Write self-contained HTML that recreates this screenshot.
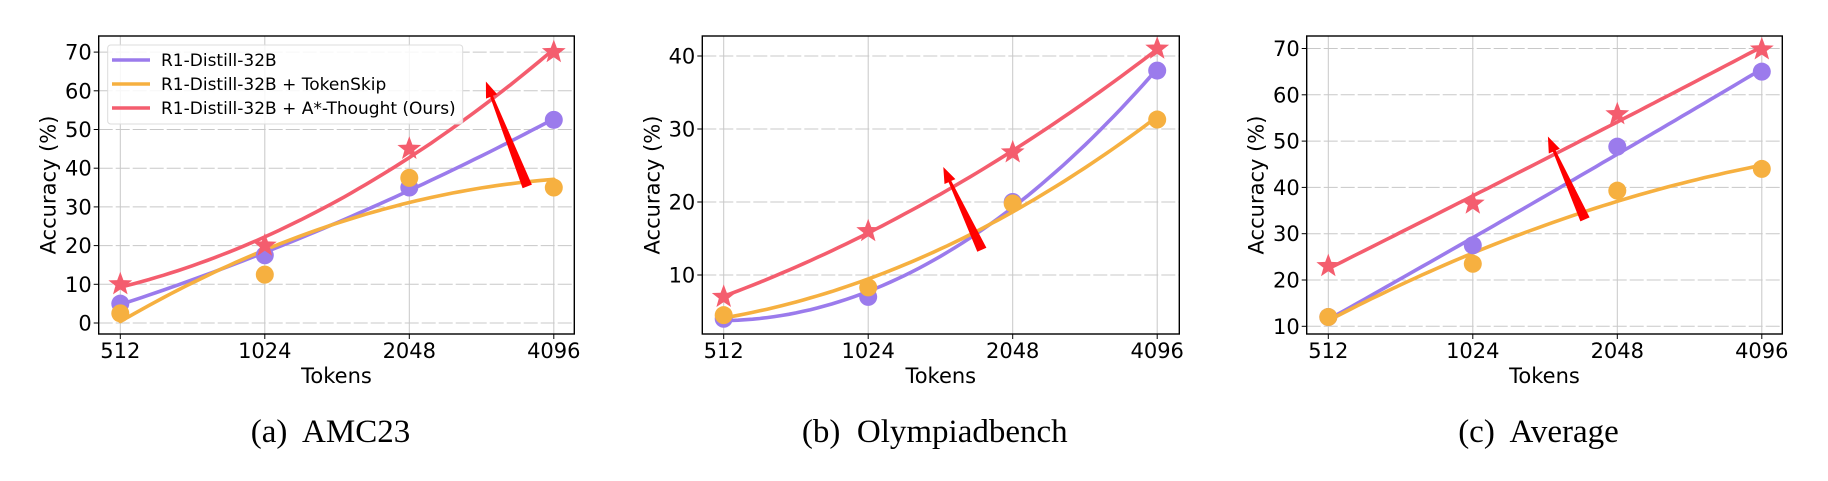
<!DOCTYPE html>
<html><head><meta charset="utf-8"><style>
body{margin:0;background:#fff;}
svg text{font-family:"DejaVu Sans","Liberation Sans",sans-serif;}
</style></head><body>
<svg id="fig" width="1828" height="476" viewBox="0 0 1828 476" xmlns="http://www.w3.org/2000/svg"></svg>
<script>
const categories = ["512","1024","2048","4096"];
const amcBase = [5, 17.5, 35, 52.5];
const amcSkip = [2.5, 12.5, 37.5, 35];
const amcOurs = [10, 20, 45, 70];
const olyBase = [4, 7, 20, 38];
const olySkip = [4.5, 8.3, 19.8, 31.3];
const olyOurs = [7, 16, 26.8, 41];
const avgBase = [12, 27.5, 48.8, 65];
const avgSkip = [12, 23.5, 39.3, 44];
const avgOurs = [23, 36.5, 55.8, 69.8];
const amcTicks = [0,10,20,30,40,50,60,70];
const olyTicks = [10,20,30,40];
const avgTicks = [10,20,30,40,50,60,70];
const amcArrow = [[2.81,35.2],[2.53,62.4]];
const olyArrow = [[1.78,13.4],[1.52,24.8]];
const avgArrow = [[1.77,33],[1.52,51]];
const seriesNames = ["R1-Distill-32B","R1-Distill-32B + TokenSkip","R1-Distill-32B + A*-Thought (Ours)"];
const captions = ["(a)  AMC23","(b)  Olympiadbench","(c)  Average"];

const NS="http://www.w3.org/2000/svg";
const svg=document.getElementById('fig');
const COLORS=["#9b7bec","#f6b040","#f45d6e"];
function mk(tag,attrs,parent){const e=document.createElementNS(NS,tag);for(const k in attrs)e.setAttribute(k,attrs[k]);(parent||svg).appendChild(e);return e;}

const panels=[
 {id:'amc',left:98.7,right:574.3,x0:120.3,refV:0,refPx:323,per10:38.7,ticks:amcTicks,data:[amcBase,amcSkip,amcOurs],arrow:amcArrow,legend:true,cap:captions[0]},
 {id:'olympiad',left:702.3,right:1179.3,x0:723.7,refV:10,refPx:275,per10:73,ticks:olyTicks,data:[olyBase,olySkip,olyOurs],arrow:olyArrow,legend:false,cap:captions[1]},
 {id:'average',left:1306.7,right:1782.3,x0:1328.3,refV:10,refPx:326.3,per10:46.3,ticks:avgTicks,data:[avgBase,avgSkip,avgOurs],arrow:avgArrow,legend:false,cap:captions[2]}
];
const TOP=36,BOT=334,DX=144.5;

function quadFit(ys){
  const n=ys.length;let S=[0,0,0,0,0],T=[0,0,0];
  for(let i=0;i<n;i++){for(let p=0;p<5;p++)S[p]+=Math.pow(i,p);for(let p=0;p<3;p++)T[p]+=ys[i]*Math.pow(i,p);}
  const A=[[S[0],S[1],S[2],T[0]],[S[1],S[2],S[3],T[1]],[S[2],S[3],S[4],T[2]]];
  for(let i=0;i<3;i++){for(let j=i+1;j<3;j++){const f=A[j][i]/A[i][i];for(let k=i;k<4;k++)A[j][k]-=f*A[i][k];}}
  const c=[0,0,0];for(let i=2;i>=0;i--){let s=A[i][3];for(let k=i+1;k<3;k++)s-=A[i][k]*c[k];c[i]=s/A[i][i];}
  return t=>c[0]+c[1]*t+c[2]*t*t;
}
function star(cx,cy,R,r){let p=[];for(let i=0;i<10;i++){const a=-Math.PI/2+i*Math.PI/5;const rr=i%2?r:R;p.push((cx+rr*Math.cos(a)).toFixed(1)+','+(cy+rr*Math.sin(a)).toFixed(1));}return p.join(' ');}

panels.forEach(P=>{
  const g=mk('g',{});
  
  
  const xs=i=>P.x0+i*DX;
  const ys=v=>P.refPx-(v-P.refV)*P.per10/10;
  categories.forEach((c,i)=>{
    const l=mk('line',{x1:xs(i),x2:xs(i),y1:TOP,y2:BOT,stroke:'#c8c8c8','stroke-width':1},g);
    
    
  });
  P.ticks.forEach(t=>{
    const l=mk('line',{x1:P.left,x2:P.right,y1:ys(t),y2:ys(t),stroke:'#c8c8c8','stroke-width':1,'stroke-dasharray':'14,3'},g);
    
    
  });
  P.data.forEach((d,si)=>{
    const f=quadFit(d);let pts=[];
    for(let k=0;k<=60;k++){const t=k/20;pts.push(xs(t).toFixed(1)+','+ys(f(t)).toFixed(1));}
    const pl=mk('polyline',{points:pts.join(' '),fill:'none',stroke:COLORS[si],'stroke-width':3.6,'stroke-linecap':'round'},g);
    
    
  });
  P.data.forEach((d,si)=>{
    d.forEach((v,i)=>{
      let m;
      if(si<2){m=mk('circle',{cx:xs(i),cy:ys(v),r:9,fill:COLORS[si]},g);}
      else{m=mk('polygon',{points:star(xs(i),ys(v),12.5,5.2),fill:COLORS[si]},g);}
      
      
    });
  });
  const [tl,hd]=P.arrow;const tx=xs(tl[0]),ty=ys(tl[1]),hx=xs(hd[0]),hy=ys(hd[1]);
  const L=Math.hypot(hx-tx,hy-ty),ux=(hx-tx)/L,uy=(hy-ty)/L,nx=-uy,ny=ux;
  const bx=hx-ux*16,by=hy-uy*16;
  const ap=[[tx+nx*6,ty+ny*6],[bx+nx*1.5,by+ny*1.5],[bx+nx*6,by+ny*6],[hx,hy],[bx-nx*6,by-ny*6],[bx-nx*1.5,by-ny*1.5],[tx-nx*4,ty-ny*4]];
  const ar=mk('polygon',{points:ap.map(p=>p[0].toFixed(1)+','+p[1].toFixed(1)).join(' '),fill:'#ff0000'},g);
  
  
  const fr=mk('rect',{x:P.left,y:TOP,width:P.right-P.left,height:BOT-TOP,fill:'none',stroke:'#000','stroke-width':1.4},g);
  
  
  categories.forEach((c,i)=>{
    mk('line',{x1:xs(i),x2:xs(i),y1:BOT,y2:BOT+5,stroke:'#000','stroke-width':1},g);
    const t=mk('text',{x:xs(i),y:358,'text-anchor':'middle','font-size':21,fill:'#000'},g);
    t.textContent=c;
    
    
  });
  P.ticks.forEach(v=>{
    mk('line',{x1:P.left-5,x2:P.left,y1:ys(v),y2:ys(v),stroke:'#000','stroke-width':1},g);
    const t=mk('text',{x:P.left-7,y:ys(v)+7.5,'text-anchor':'end','font-size':21,fill:'#000'},g);
    t.textContent=v;
    
    
  });
  const cx=(P.left+P.right)/2;
  const xt=mk('text',{x:cx,y:383,'text-anchor':'middle','font-size':21,fill:'#000'},g);
  xt.textContent='Tokens';
  
  
  const yx=P.left-43,yy=(TOP+BOT)/2;
  const yt=mk('text',{x:yx,y:yy,'text-anchor':'middle','font-size':21,fill:'#000',transform:`rotate(-90 ${yx} ${yy})`},g);
  yt.textContent='Accuracy (%)';
  
  
  const cp=mk('text',{x:cx-6,y:442,'text-anchor':'middle','font-size':33,fill:'#000'},g);
  cp.style.fontFamily='"Liberation Serif",serif';
  cp.style.whiteSpace='pre';
  cp.textContent=P.cap;
  
  
  if(P.legend){
    const lg=mk('g',{},g);
    
    
    mk('rect',{x:107.7,y:45,width:355,height:79,rx:3,fill:'#fff','fill-opacity':0.85,stroke:'#dcdcdc','stroke-width':1},lg);
    seriesNames.forEach((n,si)=>{
      const yv=60+si*24;
      const e=mk('g',{},lg);
      
      
      mk('line',{x1:112,x2:150,y1:yv,y2:yv,stroke:COLORS[si],'stroke-width':3.5},e);
      const t=mk('text',{x:161,y:yv+6,'font-size':17,fill:'#000'},e);
      t.textContent=n;
    });
  }
});
</script>
</body></html>
